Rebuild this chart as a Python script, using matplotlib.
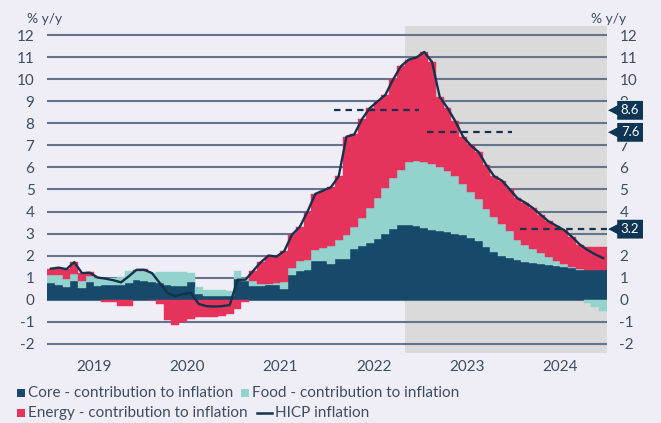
import numpy as np
import matplotlib
matplotlib.use("Agg")
import matplotlib.pyplot as plt
from matplotlib.patches import Polygon, Rectangle
from matplotlib.lines import Line2D
import matplotlib.transforms as mtrans

# ---------------- data (monthly, Jan 2019 - Dec 2024) ----------------
years = ["2019", "2020", "2021", "2022", "2023", "2024"]

core = [
    0.76, 0.68, 0.55, 0.85, 0.53, 0.78, 0.60, 0.64, 0.66, 0.68, 0.76, 0.88,   # 2019
    0.85, 0.78, 0.75, 0.65, 0.62, 0.62, 0.80, 0.25, 0.15, 0.15, 0.18, 0.15,   # 2020
    0.95, 0.85, 0.60, 0.62, 0.64, 0.66, 0.50, 1.10, 1.30, 1.36, 1.74, 1.74,   # 2021
    1.60, 1.85, 1.85, 2.30, 2.45, 2.55, 2.75, 2.98, 3.20, 3.40, 3.37, 3.32,   # 2022
    3.25, 3.18, 3.10, 3.05, 3.00, 2.95, 2.80, 2.65, 2.40, 2.15, 2.00, 1.90,   # 2023
    1.78, 1.72, 1.66, 1.60, 1.56, 1.52, 1.48, 1.42, 1.34, 1.32, 1.32, 1.32,   # 2024
]
food = [
    0.34, 0.42, 0.37, 0.30, 0.32, 0.27, 0.38, 0.31, 0.32, 0.34, 0.52, 0.42,
    0.45, 0.44, 0.49, 0.60, 0.63, 0.62, 0.42, 0.30, 0.30, 0.28, 0.25, 0.25,
    0.35, 0.13, 0.25, 0.10, 0.08, 0.08, 0.28, 0.32, 0.43, 0.42, 0.52, 0.61,
    0.85, 0.85, 1.10, 1.00, 1.25, 1.60, 1.85, 2.07, 2.30, 2.50, 2.88, 2.96,
    3.02, 2.97, 2.90, 2.80, 2.60, 2.30, 2.10, 1.90, 1.70, 1.60, 1.42, 1.20,
    0.92, 0.78, 0.64, 0.50, 0.36, 0.24, 0.12, 0.05, 0.03, -0.15, -0.35, -0.50,
]
energy = [
    0.30, 0.35, 0.48, 0.55, 0.35, 0.20, 0.02, -0.10, -0.12, -0.30, -0.30, 0.05,
    0.08, -0.03, -0.22, -0.92, -1.18, -1.00, -0.88, -0.80, -0.78, -0.78, -0.75, -0.65,
    -0.45, -0.10, 0.45, 0.98, 1.28, 1.21, 1.42, 1.53, 1.57, 2.22, 2.54, 2.60,
    2.65, 2.90, 4.45, 4.20, 4.50, 4.55, 4.40, 4.25, 4.50, 4.70, 4.65, 4.72,
    4.98, 4.65, 3.20, 2.85, 2.50, 2.15, 2.10, 2.15, 2.00, 1.85, 1.98, 1.90,
    1.90, 1.90, 1.85, 1.75, 1.63, 1.59, 1.55, 1.38, 1.10, 1.08, 1.08, 1.08,
]
hicp = [
    1.40, 1.45, 1.38, 1.70, 1.20, 1.22, 1.00, 0.95, 0.88, 0.78, 1.05, 1.35,
    1.35, 1.20, 0.75, 0.30, 0.15, 0.25, 0.30, -0.20, -0.30, -0.32, -0.30, -0.25,
    0.90, 0.90, 1.30, 1.70, 2.00, 1.95, 2.20, 2.95, 3.30, 4.00, 4.80, 4.95,
    5.10, 5.60, 7.40, 7.50, 8.20, 8.70, 9.00, 9.30, 10.00, 10.60, 10.90, 11.00,
    11.25, 10.80, 9.20, 8.70, 8.10, 7.40, 7.00, 6.70, 6.10, 5.60, 5.40, 5.00,
    4.60, 4.40, 4.15, 3.85, 3.55, 3.35, 3.15, 2.85, 2.50, 2.25, 2.05, 1.88,
]
avg_years = ["2022", "2023", "2024"]
avg_values = [8.6, 7.6, 3.2]
y_ticks = [-2, -1, 0, 1, 2, 3, 4, 5, 6, 7, 8, 9, 10, 11, 12]
right_hidden = [8, 3]          # right-hand labels covered by the value boxes
shade_start = "2022-11"

# ---------------- style ----------------
BG = "#efeef6"
GREY = "#dadada"
GRID = "#64748a"
C_CORE = "#174a6a"
C_FOOD = "#93d2cd"
C_ENERGY = "#e6335b"
C_LINE = "#15314d"
C_BOX = "#0e3553"
TXT = "#3e4d60"
FONT = ["Lato", "DejaVu Sans"]
plt.rcParams["font.family"] = FONT

core = np.array(core)
food = np.array(food)
energy = np.array(energy)
hicp = np.array(hicp)
n = len(core)
x = np.arange(n)
month_labels = [f"{y}-{m:02d}" for y in years for m in range(1, 13)]

W, H = 661, 423
fig = plt.figure(figsize=(W / 100, H / 100), dpi=100, facecolor=BG)
ax = fig.add_axes([47 / W, 1 - 353 / H, 560 / W, 327 / H])
ax.set_facecolor(BG)
ax.set_xlim(-0.5, n - 0.5)
ax.set_ylim(-2.43, 12.43)

# shaded period
s_idx = month_labels.index(shade_start)
ax.axvspan(s_idx - 0.5, n - 0.5, color=GREY, lw=0, zorder=0)

# grid
for v in y_ticks:
    ax.axhline(v, color=GRID, lw=1.5, zorder=1)

# stacked bars
food_bottom = np.where(food >= 0, core, 0)
en_bottom = np.where(energy >= 0, core + np.maximum(food, 0), np.minimum(food, 0))
ax.bar(x, core, width=1.0, bottom=0, color=C_CORE, edgecolor=C_CORE, lw=0.3, zorder=2)
ax.bar(x, food, width=1.0, bottom=food_bottom, color=C_FOOD, edgecolor=C_FOOD, lw=0.3, zorder=2)
ax.bar(x, energy, width=1.0, bottom=en_bottom, color=C_ENERGY, edgecolor=C_ENERGY, lw=0.3, zorder=2)

# HICP line
ax.plot(x, hicp, color=C_LINE, lw=1.7, zorder=4, solid_joinstyle="round")

# axes styling
for s in ax.spines.values():
    s.set_visible(False)
ax.set_yticks(y_ticks)
ax.set_yticklabels([str(v) for v in y_ticks])
ax.tick_params(axis="y", length=0, labelsize=11, labelcolor=TXT, pad=9,
               labelleft=True, labelright=True)
year_pos = [years.index(y) * 12 + 5.5 for y in years]
ax.set_xticks(year_pos)
ax.set_xticklabels(years)
ax.tick_params(axis="x", length=0, labelsize=11, labelcolor=TXT, pad=5)
fig.canvas.draw()
for t, v in zip(ax.yaxis.get_major_ticks(), y_ticks):
    if v in right_hidden:
        t.label2.set_visible(False)

# annual averages (dashed) + value boxes
trans = mtrans.blended_transform_factory(ax.transAxes, ax.transData)
for yr, val in zip(avg_years, avg_values):
    i0 = month_labels.index(f"{yr}-01")
    i1 = month_labels.index(f"{yr}-12")
    x_end = i1 + 0.3 if i1 < n - 1 else n - 0.5
    ax.plot([i0 + 0.35, x_end], [val, val], color=C_LINE, lw=1.6,
            dashes=(2.9, 2.3), zorder=5, solid_capstyle="butt")
    bx0, bx1 = 1.0175, 1.065
    hb, ht = 0.45, 0.23
    box = Polygon([(1.0, val), (bx0, val + ht), (bx0, val + hb), (bx1, val + hb),
                   (bx1, val - hb), (bx0, val - hb), (bx0, val - ht)],
                  closed=True, transform=trans, facecolor=C_BOX, edgecolor="white",
                  lw=0.6, clip_on=False, zorder=6)
    ax.add_patch(box)
    ax.text((bx0 + bx1) / 2, val, f"{val:.1f}", transform=trans, color="white",
            fontsize=9.5, ha="center", va="center", zorder=7, clip_on=False)

fig.text(27 / W, 1 - 19 / H, "% y/y", fontsize=10, color=TXT, ha="left", va="center")
fig.text(626 / W, 1 - 19 / H, "% y/y", fontsize=10, color=TXT, ha="right", va="center")

# legend (manual)
def sq(xp, yp, c):
    fig.patches.append(Rectangle((xp / W, 1 - (yp + 4) / H), 8 / W, 8 / H,
                                 transform=fig.transFigure, facecolor=c, edgecolor="none"))

LEG_FS = 11
sq(17, 393, C_CORE)
fig.text(28 / W, 1 - 393 / H, "Core - contribution to inflation", fontsize=LEG_FS,
         color=TXT, va="center", ha="left")
sq(241, 393, C_FOOD)
fig.text(252 / W, 1 - 393 / H, "Food - contribution to inflation", fontsize=LEG_FS,
         color=TXT, va="center", ha="left")
sq(17, 413, C_ENERGY)
fig.text(28 / W, 1 - 413 / H, "Energy - contribution to inflation", fontsize=LEG_FS,
         color=TXT, va="center", ha="left")
fig.lines.append(Line2D([257 / W, 272 / W], [1 - 413 / H, 1 - 413 / H],
                        transform=fig.transFigure, color=C_LINE, lw=1.8))
fig.text(275 / W, 1 - 413 / H, "HICP inflation", fontsize=LEG_FS,
         color=TXT, va="center", ha="left")

fig.savefig("out.png", dpi=100, facecolor=BG)
